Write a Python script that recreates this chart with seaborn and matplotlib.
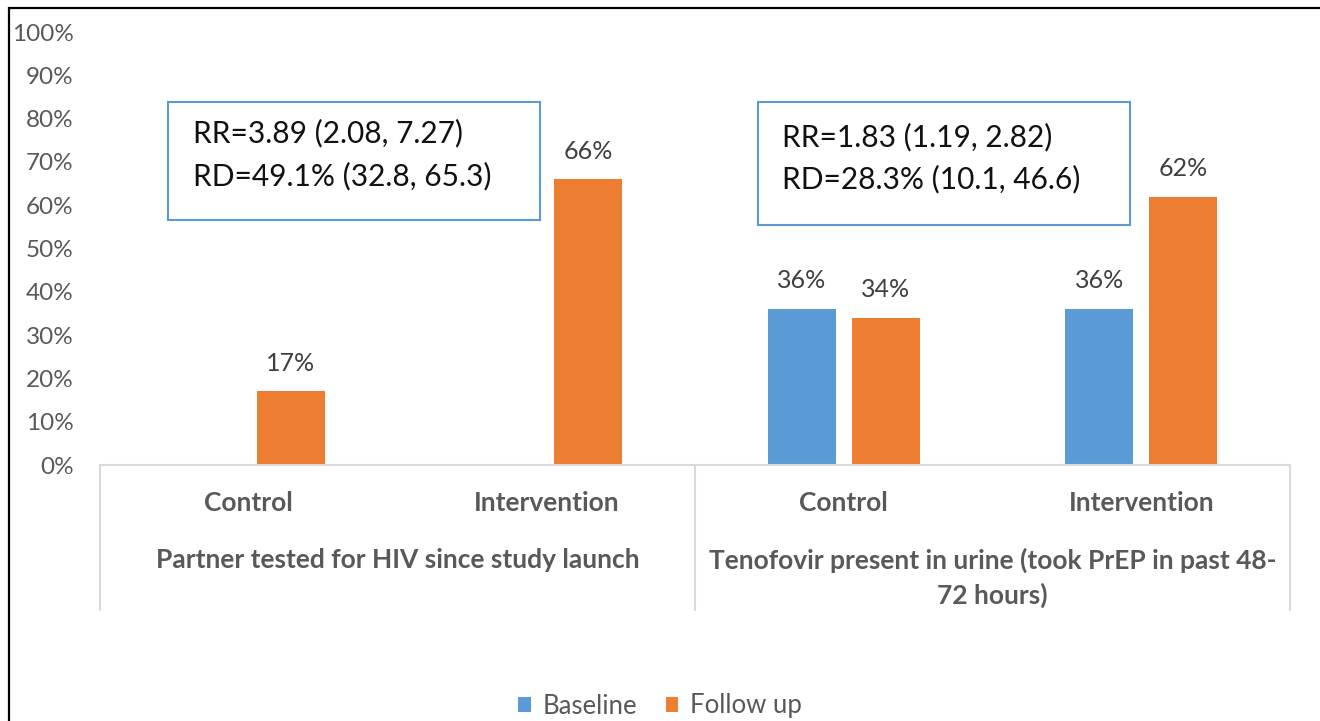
import numpy as np
import pandas as pd
import matplotlib
matplotlib.use("Agg")
import matplotlib.pyplot as plt
import matplotlib.transforms as mtransforms
from matplotlib.patches import Rectangle, Patch
import seaborn as sns

# ---- data ----
groups = ["Partner tested for HIV since study launch",
          "Tenofovir present in urine (took PrEP in past 48-\n72 hours)"]
arms = ["Control", "Intervention"]
series = ["Baseline", "Follow up"]
baseline = [np.nan, np.nan, 36, 36]
followup = [17, 66, 34, 62]
annotations = [["RR=3.89 (2.08, 7.27)", "RD=49.1% (32.8, 65.3)"],
               ["RR=1.83 (1.19, 2.82)", "RD=28.3% (10.1, 46.6)"]]
yticks = list(range(0, 101, 10))

BLUE = "#5B9BD5"
ORANGE = "#ED7D31"
GRAY = "#595959"

slots = [f"{g}|{a}" for g in groups for a in arms]
rows = []
for i, s in enumerate(slots):
    rows.append({"slot": s, "series": "Baseline", "value": baseline[i]})
    rows.append({"slot": s, "series": "Follow up", "value": followup[i]})
df = pd.DataFrame(rows).dropna()

sns.set_theme(style="white")
plt.rcParams["font.family"] = ["Lato", "DejaVu Sans"]

W, H = 1320, 721
fig = plt.figure(figsize=(W / 100, H / 100), dpi=100)
ax_left, ax_right, ax_top, ax_bot = 100, 1290, 32, 465
ax = fig.add_axes([ax_left / W, 1 - ax_bot / H, (ax_right - ax_left) / W, (ax_bot - ax_top) / H])

sns.barplot(data=df, x="slot", y="value", hue="series", order=slots,
            hue_order=series, palette=[BLUE, ORANGE], saturation=1,
            width=0.564, gap=0.19, errorbar=None, legend=False, ax=ax,
            linewidth=0)

ax.set_xlim(-0.5, len(slots) - 0.5)
ax.set_ylim(0, 100)
ax.set_yticks(yticks)
ax.set_yticklabels([f"{t}%" for t in yticks], color=GRAY, fontsize=17.5)
ax.tick_params(axis="y", length=0, pad=19)
ax.set_xticks([])
ax.set_xlabel("")
ax.set_ylabel("")
for s in ["left", "right", "top"]:
    ax.spines[s].set_visible(False)
ax.spines["bottom"].set_color("#D9D9D9")
ax.spines["bottom"].set_linewidth(1.5)

for cont in ax.containers:
    ax.bar_label(cont, fmt="%.0f%%", padding=12, color="#404040", fontsize=18)

# category axis (multi-level)
trans = mtransforms.blended_transform_factory(ax.transData, ax.transAxes)
for xv in [-0.5, 1.5, 3.5]:
    ax.plot([xv, xv], [0, -0.335], transform=trans, color="#D9D9D9",
            lw=1.5, clip_on=False)
for i, s in enumerate(slots):
    ax.text(i, -0.088, s.split("|")[1], transform=trans, ha="center", va="center",
            fontsize=19, fontweight="bold", color=GRAY)
for gi, g in enumerate(groups):
    ax.text(gi * 2 + 0.5, -0.192, g, transform=trans, ha="center", va="top",
            fontsize=19, fontweight="bold", color=GRAY, linespacing=1.45)

# annotation boxes
box_specs = [(-0.271, 0.979, 56.6, 83.8, -0.187, 76.7, 66.7),
             (1.712, 2.962, 55.4, 83.8, 1.792, 75.7, 66.0)]
for (x0, x1, y0, y1, tx, ty1, ty2), lines in zip(box_specs, annotations):
    ax.add_patch(Rectangle((x0, y0), x1 - x0, y1 - y0, facecolor="white",
                           edgecolor=BLUE, lw=1.5, zorder=3))
    ax.text(tx, ty1, lines[0], ha="left", va="center", fontsize=21.5, color="#111111", zorder=4)
    ax.text(tx, ty2, lines[1], ha="left", va="center", fontsize=21.5, color="#111111", zorder=4)

# legend
handles = [Patch(facecolor=BLUE, edgecolor="none", label="Baseline"),
           Patch(facecolor=ORANGE, edgecolor="none", label="Follow up")]
fig.legend(handles=handles, loc="center", bbox_to_anchor=(0.5, 1 - 706 / H),
           ncol=2, frameon=False, fontsize=18.5, labelcolor=GRAY,
           handlelength=0.5, handleheight=0.5, handletextpad=0.45, columnspacing=1.1)

# outer frame
fig.patches.append(Rectangle((9 / W, -0.1), 1.2, 1 - 8 / H + 0.1, transform=fig.transFigure,
                             fill=False, edgecolor="black", lw=1.6))

fig.savefig("out.png", dpi=100)
